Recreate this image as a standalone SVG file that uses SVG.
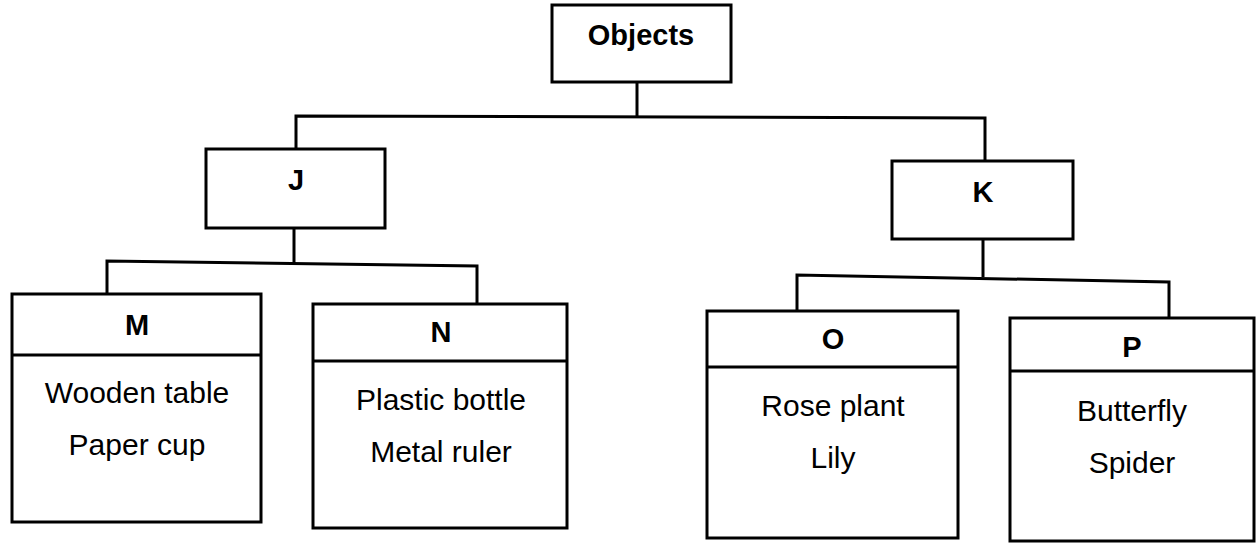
<svg xmlns="http://www.w3.org/2000/svg" width="1258" height="544" viewBox="0 0 1258 544">
<style>
.box{fill:#fff;stroke:#000;stroke-width:3}
.ln{fill:none;stroke:#000;stroke-width:3;stroke-linejoin:miter}
.hd{font-family:"Liberation Sans",Arial,sans-serif;font-weight:bold;font-size:29px;text-anchor:middle;fill:#000}
.tx{font-family:"Liberation Sans",Arial,sans-serif;font-size:30px;text-anchor:middle;fill:#000}
</style>
<rect width="1258" height="544" fill="#fff"/>
<g id="connectors">
<polyline class="ln" points="637,82 637,117"/>
<polyline class="ln" points="296,149 296,116 985,118 985,161"/>
<polyline class="ln" points="294,228 294,263"/>
<polyline class="ln" points="107,294 107,261 477,266 477,304"/>
<polyline class="ln" points="983,239 983,277"/>
<polyline class="ln" points="797,311 797,275 1169,282 1169,318"/>
</g>
<g id="objects">
<rect class="box" x="552" y="5" width="179" height="77"/>
<text class="hd" x="641" y="45">Objects</text>
</g>
<g id="J">
<rect class="box" x="206" y="149" width="179" height="79"/>
<text class="hd" x="296" y="190">J</text>
</g>
<g id="K">
<rect class="box" x="892" y="161" width="181" height="78"/>
<text class="hd" x="983" y="202">K</text>
</g>
<g id="M">
<rect class="box" x="12" y="294" width="249" height="228"/>
<line class="ln" x1="12" y1="355" x2="261" y2="355"/>
<text class="hd" x="137" y="335">M</text>
<text class="tx" x="137" y="403">Wooden table</text>
<text class="tx" x="137" y="455">Paper cup</text>
</g>
<g id="N">
<rect class="box" x="313" y="304" width="254" height="224"/>
<line class="ln" x1="313" y1="361" x2="567" y2="361"/>
<text class="hd" x="441" y="342">N</text>
<text class="tx" x="441" y="410">Plastic bottle</text>
<text class="tx" x="441" y="462">Metal ruler</text>
</g>
<g id="O">
<rect class="box" x="707" y="311" width="251" height="227"/>
<line class="ln" x1="707" y1="367" x2="958" y2="367"/>
<text class="hd" x="833" y="349">O</text>
<text class="tx" x="833" y="416">Rose plant</text>
<text class="tx" x="833" y="468">Lily</text>
</g>
<g id="P">
<rect class="box" x="1010" y="318" width="244" height="223"/>
<line class="ln" x1="1010" y1="371" x2="1254" y2="371"/>
<text class="hd" x="1132" y="357">P</text>
<text class="tx" x="1132" y="421">Butterfly</text>
<text class="tx" x="1132" y="473">Spider</text>
</g>
</svg>
